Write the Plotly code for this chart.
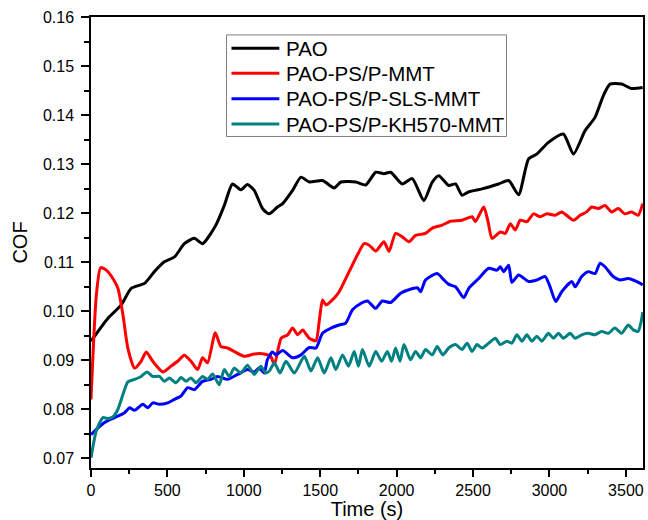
import plotly.graph_objects as go

# ---- data: friction coefficient vs. time ----
series_names = ["PAO", "PAO-PS/P-MMT", "PAO-PS/P-SLS-MMT", "PAO-PS/P-KH570-MMT"]
series_colors = ["#000000", "#FF0000", "#0000FF", "#008080"]

pao_t = [0, 111, 198, 263, 350, 415, 480, 546, 611, 676, 730, 817, 872, 926, 980, 1024,
         1068, 1122, 1165, 1220, 1254, 1319, 1374, 1428, 1515, 1591, 1635, 1733, 1798, 1863,
         1917, 1961, 2037, 2102, 2178, 2233, 2276, 2341, 2385, 2428, 2472, 2559, 2667, 2733,
         2798, 2863, 2917, 2993, 3091, 3157, 3233, 3298, 3352, 3396, 3472, 3537, 3610]
pao_v = [0.0939, 0.0986, 0.1013, 0.1047, 0.1057, 0.1081, 0.1101, 0.1111, 0.1138, 0.1149,
         0.1138, 0.1176, 0.1216, 0.1260, 0.1248, 0.1259, 0.1247, 0.1210, 0.1199, 0.1213,
         0.1220, 0.1247, 0.1274, 0.1264, 0.1267, 0.1252, 0.1264, 0.1264, 0.1258, 0.1284,
         0.1281, 0.1284, 0.1260, 0.1271, 0.1226, 0.1264, 0.1277, 0.1257, 0.1260, 0.1237,
         0.1244, 0.1250, 0.1260, 0.1267, 0.1238, 0.1311, 0.1321, 0.1345, 0.1362, 0.1321,
         0.1369, 0.1396, 0.1440, 0.1464, 0.1464, 0.1455, 0.1457]

mmt_t = [0, 35, 63, 100, 143, 176, 209, 241, 285, 328, 361, 404, 470, 524, 567, 611, 654,
         698, 730, 763, 813, 850, 893, 937, 1002, 1068, 1133, 1176, 1200, 1244, 1287, 1319,
         1352, 1385, 1428, 1472, 1493, 1515, 1537, 1591, 1624, 1689, 1743, 1787, 1820, 1863,
         1917, 1950, 1993, 2037, 2080, 2124, 2189, 2233, 2298, 2352, 2428, 2494, 2515, 2570,
         2598, 2624, 2678, 2711, 2744, 2776, 2809, 2852, 2896, 2939, 2983, 3037, 3080, 3157,
         3200, 3243, 3276, 3320, 3363, 3407, 3450, 3493, 3537, 3580, 3610]
mmt_v = [0.0820, 0.1033, 0.1089, 0.1084, 0.1067, 0.1047, 0.0993, 0.0925, 0.0884, 0.0898,
         0.0917, 0.0898, 0.0876, 0.0888, 0.0898, 0.0910, 0.0898, 0.0881, 0.0905, 0.0895,
         0.0956, 0.0928, 0.0925, 0.0918, 0.0908, 0.0913, 0.0913, 0.0908, 0.0891, 0.0945,
         0.0952, 0.0966, 0.0952, 0.0962, 0.0945, 0.0940, 0.0979, 0.1023, 0.1013, 0.1027,
         0.1040, 0.1081, 0.1115, 0.1138, 0.1135, 0.1123, 0.1142, 0.1122, 0.1159, 0.1152,
         0.1142, 0.1155, 0.1159, 0.1170, 0.1176, 0.1184, 0.1186, 0.1193, 0.1183, 0.1213,
         0.1183, 0.1149, 0.1162, 0.1159, 0.1179, 0.1166, 0.1186, 0.1183, 0.1199, 0.1193,
         0.1199, 0.1196, 0.1203, 0.1186, 0.1196, 0.1203, 0.1213, 0.1210, 0.1216, 0.1203,
         0.1210, 0.1199, 0.1203, 0.1196, 0.1220]

sls_t = [0, 46, 89, 154, 220, 252, 285, 339, 372, 404, 448, 502, 546, 589, 633, 676, 730,
         785, 828, 893, 959, 1024, 1068, 1100, 1133, 1154, 1187, 1211, 1254, 1319, 1374,
         1428, 1472, 1515, 1580, 1624, 1667, 1711, 1765, 1809, 1863, 1906, 1961, 2026, 2080,
         2135, 2157, 2189, 2265, 2309, 2341, 2385, 2439, 2472, 2537, 2602, 2656, 2678, 2700,
         2733, 2754, 2798, 2863, 2917, 2972, 3004, 3041, 3080, 3146, 3168, 3211, 3254, 3298,
         3331, 3363, 3417, 3461, 3515, 3569, 3610]
sls_v = [0.0748, 0.0762, 0.0773, 0.0783, 0.0793, 0.0803, 0.0798, 0.0810, 0.0803, 0.0813,
         0.0810, 0.0813, 0.0820, 0.0827, 0.0844, 0.0840, 0.0857, 0.0861, 0.0867, 0.0861,
         0.0871, 0.0881, 0.0876, 0.0884, 0.0874, 0.0901, 0.0917, 0.0911, 0.0920, 0.0905,
         0.0911, 0.0926, 0.0925, 0.0955, 0.0967, 0.0972, 0.0976, 0.1003, 0.1016, 0.1021,
         0.1006, 0.1021, 0.1018, 0.1037, 0.1044, 0.1048, 0.1040, 0.1064, 0.1077, 0.1064,
         0.1055, 0.1050, 0.1028, 0.1047, 0.1067, 0.1088, 0.1084, 0.1091, 0.1081, 0.1094,
         0.1059, 0.1074, 0.1061, 0.1064, 0.1071, 0.1050, 0.1020, 0.1040, 0.1061, 0.1050,
         0.1071, 0.1081, 0.1077, 0.1098, 0.1091, 0.1071, 0.1064, 0.1067, 0.1061, 0.1054]

kh_t = [0, 35, 78, 111, 143, 176, 209, 241, 285, 328, 367, 404, 448, 480, 513, 556, 589,
        622, 654, 687, 730, 763, 796, 839, 872, 905, 937, 980, 1024, 1068, 1111, 1143,
        1167, 1200, 1237, 1276, 1330, 1396, 1439, 1483, 1526, 1570, 1602, 1646, 1685, 1722,
        1750, 1776, 1820, 1863, 1902, 1939, 1967, 1993, 2022, 2048, 2091, 2124, 2157, 2189,
        2233, 2265, 2302, 2341, 2385, 2428, 2461, 2494, 2526, 2559, 2602, 2646, 2678, 2722,
        2754, 2787, 2820, 2852, 2885, 2917, 2950, 2993, 3026, 3059, 3091, 3135, 3168, 3211,
        3254, 3298, 3341, 3385, 3428, 3472, 3515, 3548, 3580, 3600, 3610]
kh_v = [0.0701, 0.0756, 0.0783, 0.0781, 0.0784, 0.0800, 0.0830, 0.0856, 0.0861, 0.0867,
        0.0876, 0.0867, 0.0867, 0.0857, 0.0864, 0.0854, 0.0865, 0.0857, 0.0864, 0.0854,
        0.0867, 0.0861, 0.0872, 0.0850, 0.0881, 0.0867, 0.0884, 0.0874, 0.0890, 0.0871,
        0.0888, 0.0874, 0.0878, 0.0895, 0.0874, 0.0898, 0.0874, 0.0908, 0.0878, 0.0905,
        0.0874, 0.0905, 0.0881, 0.0911, 0.0888, 0.0918, 0.0888, 0.0922, 0.0888, 0.0918,
        0.0898, 0.0918, 0.0898, 0.0925, 0.0898, 0.0932, 0.0901, 0.0918, 0.0905, 0.0922,
        0.0911, 0.0928, 0.0911, 0.0925, 0.0932, 0.0922, 0.0935, 0.0918, 0.0932, 0.0925,
        0.0935, 0.0945, 0.0932, 0.0939, 0.0935, 0.0952, 0.0939, 0.0952, 0.0939, 0.0949,
        0.0939, 0.0955, 0.0945, 0.0955, 0.0945, 0.0955, 0.0945, 0.0952, 0.0955, 0.0952,
        0.0959, 0.0955, 0.0966, 0.0955, 0.0972, 0.0962, 0.0959, 0.0979, 0.0998]

x_ticks = [0, 500, 1000, 1500, 2000, 2500, 3000, 3500]
y_ticks = [0.07, 0.08, 0.09, 0.10, 0.11, 0.12, 0.13, 0.14, 0.15, 0.16]

FONT = "Liberation Sans, Arial, sans-serif"

fig = go.Figure()
for name, color, t, v in zip(series_names, series_colors,
                             [pao_t, mmt_t, sls_t, kh_t],
                             [pao_v, mmt_v, sls_v, kh_v]):
    fig.add_trace(go.Scatter(
        x=t, y=v, mode="lines", name=name, showlegend=False,
        line=dict(color=color, width=3, shape="spline", smoothing=0.6),
    ))

# legend box drawn in paper coordinates
legend_rows_y = [0.9309, 0.8753, 0.8190, 0.7627]
shapes = [dict(type="rect", xref="paper", yref="paper",
               x0=0.2455, x1=0.7527, y0=0.7351, y1=0.9603,
               line=dict(color="#7f7f7f", width=1), fillcolor="white", layer="below")]
annotations = []
for name, color, ly in zip(series_names, series_colors, legend_rows_y):
    shapes.append(dict(type="line", xref="paper", yref="paper",
                       x0=0.2545, x1=0.3412, y0=ly, y1=ly,
                       line=dict(color=color, width=3)))
    annotations.append(dict(xref="paper", yref="paper", x=0.3502, y=ly,
                            xanchor="left", yanchor="middle", showarrow=False,
                            text=name, font=dict(family=FONT, size=20.5, color="black")))

axis_common = dict(
    showgrid=False, zeroline=False, showline=True, linecolor="black", linewidth=1.5,
    mirror=True, ticks="outside", tickcolor="black", tickwidth=1.5,
    tickfont=dict(family=FONT, size=16, color="black"),
)

fig.update_layout(
    width=648, height=520,
    margin=dict(l=91, r=3, t=17, b=50),
    paper_bgcolor="white", plot_bgcolor="white",
    font=dict(family=FONT, color="black"),
    shapes=shapes, annotations=annotations,
    xaxis=dict(
        **axis_common, range=[0, 3612], tickvals=x_ticks, ticklen=7,
        minor=dict(dtick=250, tick0=0, ticks="outside", ticklen=4,
                   tickcolor="black", tickwidth=1.5, showgrid=False),
        title=dict(text="Time (s)", font=dict(family=FONT, size=20), standoff=4),
    ),
    yaxis=dict(
        **axis_common, range=[0.0680, 0.1601], tickvals=y_ticks, tickformat=".2f",
        ticklen=8, ticklabelstandoff=4,
        minor=dict(dtick=0.005, tick0=0.07, ticks="outside", ticklen=5,
                   tickcolor="black", tickwidth=1.5, showgrid=False),
        title=dict(text="COF", font=dict(family=FONT, size=20), standoff=10),
    ),
)

fig.write_html("out.html")
